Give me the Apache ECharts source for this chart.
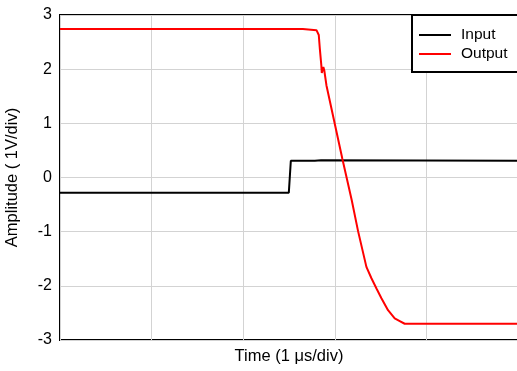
<!DOCTYPE html>
<html>
<head>
<meta charset="utf-8">
<script src="https://cdn.jsdelivr.net/npm/echarts@6/dist/echarts.min.js"></script>
<style>html,body{margin:0;padding:0;background:#fff}#c{width:517px;height:371px}</style>
</head>
<body>
<div id="c"></div>
<script>
// Time in divisions (1 µs/div), amplitude in V (1 V/div)
const yTicks = [-3, -2, -1, 0, 1, 2, 3];
const inputT = [0, 2.498, 2.520, 2.782, 2.85, 5];
const inputV = [-0.28, -0.28, 0.31, 0.31, 0.32, 0.31];
const outputT = [0, 2.651, 2.662, 2.800, 2.825, 2.836, 2.853, 2.858, 2.875, 2.885, 2.909, 3.083, 3.185, 3.254, 3.345, 3.400, 3.455, 3.509, 3.581, 3.654, 3.709, 3.763, 5];
const outputV = [2.74, 2.74, 2.72, 2.72, 2.63, 2.39, 2.07, 1.93, 2.04, 1.98, 1.70, 0.34, -0.42, -0.99, -1.65, -1.86, -2.05, -2.23, -2.45, -2.60, -2.65, -2.70, -2.70];
const seriesNames = ['Input', 'Output'];

const zip = (a, b) => a.map((t, i) => [t, b[i]]);
const font = 'Liberation Sans, Arial, Helvetica, sans-serif';
const chart = echarts.init(document.getElementById('c'), null, {renderer: 'canvas'});
chart.setOption({
  animation: false,
  backgroundColor: '#fff',
  grid: {left: 60, top: 15, width: 458, height: 325, show: true, borderColor: '#000', borderWidth: 2, backgroundColor: 'transparent', containLabel: false, outerBoundsMode: 'none'},
  xAxis: {
    type: 'value', min: 0, max: 5, interval: 1,
    name: 'Time (1 μs/div)', nameLocation: 'middle', nameGap: 8,
    nameTextStyle: {fontFamily: font, fontSize: 16.5, color: '#000'},
    axisLine: {show: false}, axisTick: {show: false}, axisLabel: {show: false},
    splitLine: {show: true, lineStyle: {color: '#d3d3d3', width: 1}}
  },
  yAxis: {
    type: 'value', min: yTicks[0], max: yTicks[yTicks.length - 1], interval: 1,
    name: 'Amplitude ( 1V/div)', nameLocation: 'middle', nameGap: 39,
    nameTextStyle: {fontFamily: font, fontSize: 16.5, color: '#000'},
    axisLine: {show: false}, axisTick: {show: false},
    axisLabel: {fontFamily: font, fontSize: 16, color: '#000', margin: 8},
    splitLine: {show: true, lineStyle: {color: '#d3d3d3', width: 1}}
  },
  legend: {
    orient: 'vertical', left: 412, top: 15,
    data: seriesNames.map(n => ({name: n, icon: 'rect'})),
    itemWidth: 32, itemHeight: 2, itemGap: 0,
    padding: [10.5, 20, 8.5, 7],
    backgroundColor: '#fff', borderColor: '#000', borderWidth: 2, borderRadius: 0,
    textStyle: {fontFamily: font, fontSize: 15.5, color: '#000', lineHeight: 19, padding: [0, 0, 0, 5]}
  },
  series: [
    {name: seriesNames[0], type: 'line', data: zip(inputT, inputV), showSymbol: false, lineStyle: {color: '#000', width: 2}, itemStyle: {color: '#000'}},
    {name: seriesNames[1], type: 'line', data: zip(outputT, outputV), showSymbol: false, lineStyle: {color: '#ff0000', width: 2}, itemStyle: {color: '#ff0000'}}
  ]
});
</script>
</body>
</html>
